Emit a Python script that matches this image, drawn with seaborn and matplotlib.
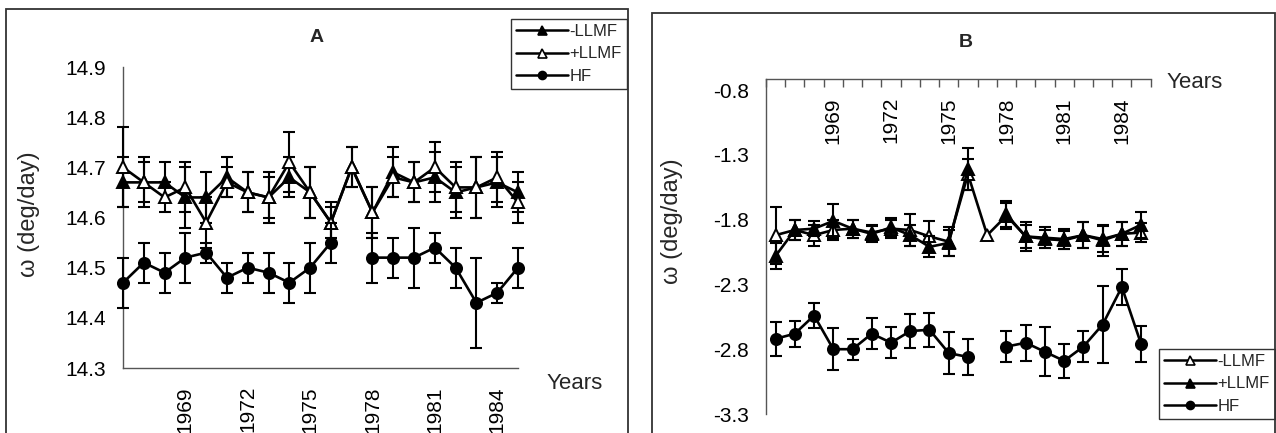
import numpy as np
import pandas as pd
import matplotlib
matplotlib.use("Agg")
import matplotlib.pyplot as plt
from matplotlib.lines import Line2D
from matplotlib.patches import Rectangle
from matplotlib.ticker import FixedLocator, FixedFormatter
import seaborn as sns

# ---------------------------------------------------------------- data
years = list(range(1966, 1986))
label_years = [1969, 1972, 1975, 1978, 1981, 1984]
nan = np.nan

# Panel A: frequency (deg/day)
a_minus = [14.67, 14.67, 14.67, 14.64, 14.64, 14.68, 14.65, 14.64, 14.68, 14.65,
           14.59, 14.70, 14.61, 14.69, 14.67, 14.68, 14.65, 14.66, 14.67, 14.65]
a_minus_err = [0.05, 0.04, 0.04, 0.06, 0.05, 0.04, 0.04, 0.04, 0.04, 0.05,
               0.03, 0.04, 0.05, 0.05, 0.04, 0.05, 0.05, 0.06, 0.05, 0.04]
a_plus = [14.70, 14.67, 14.64, 14.66, 14.59, 14.67, 14.65, 14.64, 14.71, 14.65,
          14.59, 14.70, 14.61, 14.68, 14.67, 14.70, 14.66, 14.66, 14.68, 14.63]
a_plus_err = [0.08, 0.05, 0.03, 0.05, 0.05, 0.03, 0.04, 0.05, 0.06, 0.05,
              0.04, 0.04, 0.05, 0.04, 0.04, 0.05, 0.05, 0.06, 0.05, 0.04]
a_hf = [14.47, 14.51, 14.49, 14.52, 14.53, 14.48, 14.50, 14.49, 14.47, 14.50,
        14.55, nan, 14.52, 14.52, 14.52, 14.54, 14.50, 14.43, 14.45, 14.50]
a_hf_err = [0.05, 0.04, 0.04, 0.05, 0.02, 0.03, 0.03, 0.04, 0.04, 0.05,
            0.04, nan, 0.05, 0.04, 0.06, 0.03, 0.04, 0.09, 0.02, 0.04]

# Panel B: frequency (deg/day)
b_minus = [-1.92, -1.88, -1.92, -1.88, -1.87, -1.90, -1.87, -1.88, -1.93, -1.97,
           -1.45, -1.92, -1.77, -1.93, -1.94, -1.95, -1.92, -1.95, -1.91, -1.90]
b_minus_err = [0.22, 0.08, 0.08, 0.08, 0.07, 0.06, 0.07, 0.12, 0.12, 0.11,
               0.12, nan, 0.10, 0.11, 0.08, 0.08, 0.10, 0.10, 0.09, 0.07]
b_plus = [-2.08, -1.88, -1.87, -1.81, -1.87, -1.91, -1.86, -1.92, -2.01, -1.98,
          -1.41, nan, -1.76, -1.93, -1.95, -1.96, -1.92, -1.96, -1.91, -1.84]
b_plus_err = [0.10, 0.08, 0.06, 0.13, 0.07, 0.06, 0.07, 0.08, 0.08, 0.10,
              0.16, nan, 0.10, 0.09, 0.07, 0.07, 0.10, 0.12, 0.09, 0.10]
b_hf = [-2.72, -2.68, -2.54, -2.80, -2.80, -2.68, -2.75, -2.66, -2.65, -2.83,
        -2.86, nan, -2.78, -2.75, -2.82, -2.89, -2.78, -2.61, -2.32, -2.76]
b_hf_err = [0.13, 0.10, 0.10, 0.16, 0.08, 0.12, 0.12, 0.13, 0.13, 0.16,
            0.14, nan, 0.12, 0.14, 0.19, 0.13, 0.12, 0.30, 0.14, 0.14]

# ---------------------------------------------------------------- style
sns.set_theme(style="white")
plt.rcParams["font.family"] = ["Liberation Sans", "DejaVu Sans"]

W, H = 1276, 433
fig = plt.figure(figsize=(W / 100, H / 100), dpi=100)

AX_COL = "#555555"
FS = 15
YLAB_FS = 17
LEG_FS = 12

FILLED = dict(marker="^", mfc="black", ms=9)
OPEN = dict(marker="^", mfc="white", ms=9)
DOT = dict(marker="o", mfc="black", ms=8)


def draw_series(ax, y, err, style, z):
    df = pd.DataFrame({"year": years, "value": y})
    # separate runs of valid values so missing years leave a gap
    df["seg"] = df["value"].isna().cumsum()
    df = df.dropna()
    ax.errorbar(years, y, yerr=err, fmt="none", ecolor="black", elinewidth=1.5,
                capsize=4, capthick=1.5, clip_on=False, zorder=z)
    sns.lineplot(data=df, x="year", y="value", units="seg", estimator=None,
                 ax=ax, color="black", lw=1.9, marker=style["marker"],
                 markersize=style["ms"], markerfacecolor=style["mfc"],
                 markeredgecolor="black", markeredgewidth=1.4,
                 clip_on=False, zorder=z + 0.5, legend=False)


def legend_handle(style, label):
    return Line2D([], [], color="black", lw=1.8, marker=style["marker"],
                  markersize=style["ms"] * 0.72, markerfacecolor=style["mfc"],
                  markeredgecolor="black", markeredgewidth=1.2, label=label)


def style_axes(ax):
    for side in ("left", "bottom", "top", "right"):
        ax.spines[side].set_color(AX_COL)
        ax.spines[side].set_linewidth(1.0)
    ax.set_facecolor("none")
    ax.tick_params(axis="both", colors=AX_COL, labelcolor="black",
                   labelsize=FS, width=1.0)
    ax.set_ylabel("ω (deg/day)", fontsize=YLAB_FS)


def add_legend(ax, handles, corner):
    ax.legend(handles=handles, loc="upper right", bbox_to_anchor=corner,
              bbox_transform=fig.transFigure, borderaxespad=0, fontsize=LEG_FS,
              frameon=True, fancybox=False, edgecolor="#333333", framealpha=1,
              handlelength=3.1, handletextpad=0.1, labelspacing=0.45,
              borderpad=0.3)


# ---------------------------------------------------------------- panel A
axA = fig.add_axes([123 / W, 1 - 368 / H, 395 / W, 301 / H])
style_axes(axA)
draw_series(axA, a_minus, a_minus_err, FILLED, 3)
draw_series(axA, a_plus, a_plus_err, OPEN, 4)
draw_series(axA, a_hf, a_hf_err, DOT, 5)
axA.set_xlim(years[0], years[-1])
axA.set_ylim(14.3, 14.9)
ya = np.arange(14.3, 14.91, 0.1)
axA.set_yticks(ya)
axA.yaxis.set_major_formatter(FixedFormatter([f"{v:.1f}" for v in ya]))
axA.xaxis.set_major_locator(FixedLocator(years))
axA.xaxis.set_major_formatter(FixedFormatter([str(y) if y in label_years else "" for y in years]))
axA.tick_params(axis="x", direction="out", length=5, pad=8, labelrotation=90)
axA.tick_params(axis="y", direction="out", length=5, pad=7)
axA.spines["top"].set_visible(False)
axA.spines["right"].set_visible(False)
axA.yaxis.set_label_coords(-0.21, 0.51)
axA.set_xlabel("Years", fontsize=FS + 1, ha="left", va="center")
axA.xaxis.set_label_coords(1.073, -0.05)
axA.text(0.489, 1.097, "A", transform=axA.transAxes, ha="center", va="center",
         fontsize=14, fontweight="bold")
add_legend(axA, [legend_handle(FILLED, "-LLMF"), legend_handle(OPEN, "+LLMF"),
                 legend_handle(DOT, "HF")], (627 / W, 1 - 19 / H))

# ---------------------------------------------------------------- panel B
axB = fig.add_axes([766 / W, 1 - 414 / H, 384.7 / W, 335 / H])
style_axes(axB)
draw_series(axB, b_minus, b_minus_err, OPEN, 3)
draw_series(axB, b_plus, b_plus_err, FILLED, 4)
draw_series(axB, b_hf, b_hf_err, DOT, 5)
axB.set_xlim(years[0] - 0.5, years[-1] + 0.5)
axB.set_ylim(-3.3, -0.715)
yb = np.arange(-3.3, -0.79, 0.5)
axB.set_yticks(yb)
axB.yaxis.set_major_formatter(FixedFormatter([f"{v:.1f}" for v in yb]))
axB.spines["bottom"].set_visible(False)
axB.spines["right"].set_visible(False)
axB.xaxis.tick_top()
# tick marks at category boundaries, labels at category centres
axB.xaxis.set_minor_locator(FixedLocator([y - 0.5 for y in years] + [years[-1] + 0.5]))
axB.xaxis.set_major_locator(FixedLocator(label_years))
axB.xaxis.set_major_formatter(FixedFormatter([str(y) for y in label_years]))
axB.tick_params(axis="x", which="minor", top=True, bottom=False, direction="in",
                length=6, width=1.0, colors=AX_COL)
axB.tick_params(axis="x", which="major", top=True, bottom=False, labeltop=True,
                labelbottom=False, length=0, pad=-13, labelrotation=90)
axB.tick_params(axis="y", direction="out", length=5, pad=7)
for t in axB.xaxis.get_major_ticks():
    t.label2.set_va("top")
axB.yaxis.set_label_coords(-0.216, 0.576)
axB.set_xlabel("Years", fontsize=FS + 1, ha="left", va="center")
axB.xaxis.set_label_position("top")
axB.xaxis.set_label_coords(1.04, 0.973)
axB.text(0.52, 1.11, "B", transform=axB.transAxes, ha="center", va="center",
         fontsize=14, fontweight="bold")
add_legend(axB, [legend_handle(OPEN, "-LLMF"), legend_handle(FILLED, "+LLMF"),
                 legend_handle(DOT, "HF")], (1275 / W, 1 - 349 / H))

# ---------------------------------------------------------------- chart frames
fig.add_artist(Rectangle((6 / W, -0.2), 622 / W, 1.2 - 9 / H, transform=fig.transFigure,
                         fill=False, ec="#333333", lw=1.3))
fig.add_artist(Rectangle((652 / W, -0.2), 623 / W, 1.2 - 13 / H, transform=fig.transFigure,
                         fill=False, ec="#333333", lw=1.3))

fig.savefig("out.png", dpi=100, facecolor="white")
